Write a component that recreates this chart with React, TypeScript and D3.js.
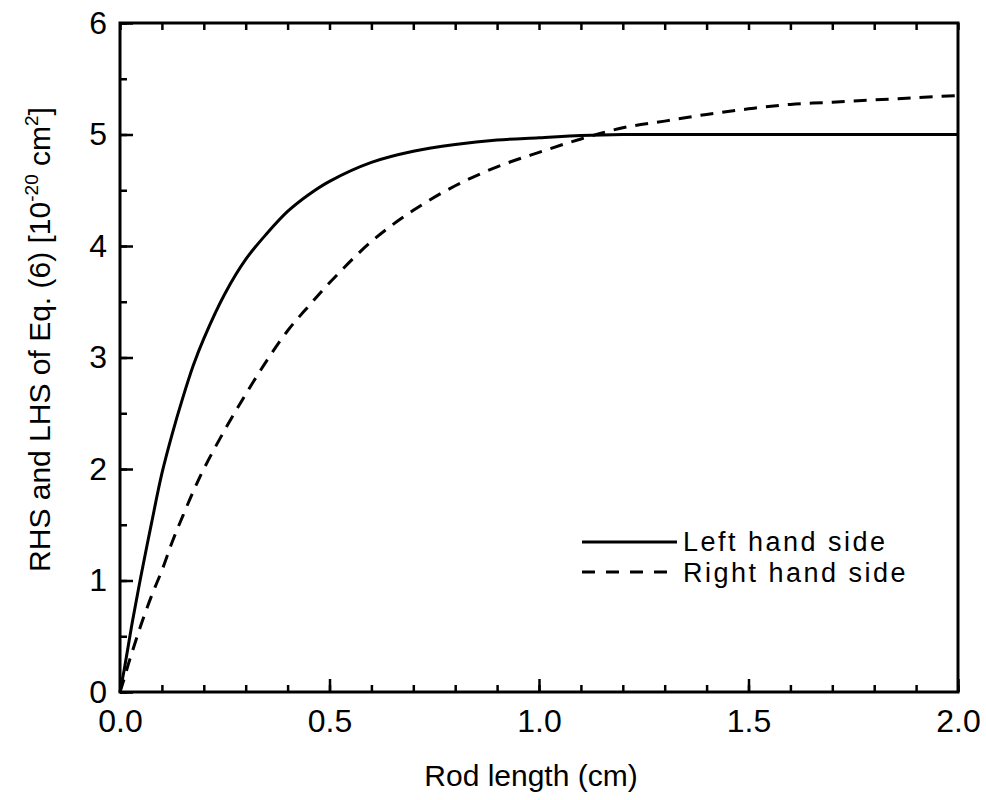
import * as d3 from "d3";
import { useEffect, useRef } from "react";

// rod length (cm), shared by both curves
const rodLength = [
  0, 0.01, 0.02, 0.03, 0.05, 0.075, 0.1, 0.125, 0.15, 0.175, 0.2, 0.25, 0.3,
  0.35, 0.4, 0.45, 0.5, 0.6, 0.7, 0.8, 0.9, 1.0, 1.1, 1.2, 1.3, 1.4, 1.5, 1.6,
  1.7, 1.8, 1.9, 2.0,
];
const leftHandSide = [
  0, 0.2, 0.42, 0.64, 1.04, 1.51, 1.96, 2.32, 2.64, 2.93, 3.17, 3.57, 3.88,
  4.11, 4.31, 4.46, 4.58, 4.75, 4.85, 4.91, 4.95, 4.97, 4.99, 5.0, 5.0, 5.0,
  5.0, 5.0, 5.0, 5.0, 5.0, 5.0,
];
const rightHandSide = [
  0, 0.12, 0.25, 0.37, 0.6, 0.86, 1.09, 1.35, 1.58, 1.8, 2.0, 2.35, 2.67, 2.97,
  3.24, 3.46, 3.67, 4.04, 4.32, 4.54, 4.71, 4.84, 4.96, 5.06, 5.12, 5.18, 5.23,
  5.27, 5.29, 5.31, 5.33, 5.35,
];

const xMajor = [0, 0.5, 1.0, 1.5, 2.0];
const xMinor = d3.range(0, 21).map((i) => i / 10);
const yMajor = [0, 1, 2, 3, 4, 5, 6];
const yMinor = d3.range(0, 13).map((i) => i / 2);
const legendLabels = ["Left hand side", "Right hand side"];

const width = 986;
const height = 800;
const marginTop = 23;
const marginRight = 28;
const marginBottom = 108;
const marginLeft = 120;

const font = "'Liberation Sans', Arial, Helvetica, sans-serif";

export default function App() {
  const gx = useRef<SVGGElement>(null);
  const gxMinor = useRef<SVGGElement>(null);
  const gxTop = useRef<SVGGElement>(null);
  const gy = useRef<SVGGElement>(null);
  const gyMinor = useRef<SVGGElement>(null);

  const x = d3
    .scaleLinear()
    .domain([0, 2])
    .range([marginLeft, width - marginRight]);
  const y = d3
    .scaleLinear()
    .domain([0, 6])
    .range([height - marginBottom, marginTop]);

  const line = d3
    .line<number>()
    .x((_, i) => x(rodLength[i]))
    .y((d) => y(d))
    .curve(d3.curveCatmullRom.alpha(0.5));

  useEffect(() => {
    const style = (g: any) => {
      g.select(".domain").remove();
      g.selectAll(".tick line").attr("stroke-width", 2.5);
      g.selectAll(".tick text")
        .attr("font-family", font)
        .attr("font-size", 32)
        .attr("fill", "#000");
    };
    d3.select(gx.current!)
      .call(
        d3
          .axisBottom(x)
          .tickValues(xMajor)
          .tickSize(-13)
          .tickPadding(17)
          .tickFormat(d3.format(".1f"))
      )
      .call(style);
    d3.select(gxMinor.current!)
      .call(d3.axisBottom(x).tickValues(xMinor).tickSize(-7).tickFormat(() => ""))
      .call(style);
    d3.select(gxTop.current!)
      .call(d3.axisTop(x).tickValues(xMinor).tickSize(-7).tickFormat(() => ""))
      .call(style);
    d3.select(gy.current!)
      .call(d3.axisLeft(y).tickValues(yMajor).tickSize(-13).tickPadding(13).tickFormat(d3.format("d")))
      .call(style);
    d3.select(gyMinor.current!)
      .call(d3.axisLeft(y).tickValues(yMinor).tickSize(-7).tickFormat(() => ""))
      .call(style);
  }, []);

  const plotBottom = height - marginBottom;
  const midY = (marginTop + plotBottom) / 2;

  return (
    <svg
      width={width}
      height={height}
      viewBox={`0 0 ${width} ${height}`}
      style={{ position: "absolute", left: 0, top: 0, background: "#fff" }}
    >
      <rect width={width} height={height} fill="#fff" />
      <g fill="none" stroke="#000" strokeWidth={3}>
        <path d={line(leftHandSide) ?? ""} />
        <path d={line(rightHandSide) ?? ""} strokeDasharray="13 9" />
      </g>

      <g ref={gxMinor} transform={`translate(0,${plotBottom})`} />
      <g ref={gx} transform={`translate(0,${plotBottom})`} />
      <g ref={gxTop} transform={`translate(0,${marginTop})`} />
      <g ref={gyMinor} transform={`translate(${marginLeft},0)`} />
      <g ref={gy} transform={`translate(${marginLeft},0)`} />

      <rect
        x={marginLeft}
        y={marginTop}
        width={width - marginRight - marginLeft}
        height={plotBottom - marginTop}
        fill="none"
        stroke="#000"
        strokeWidth={3}
      />

      {/* legend */}
      <g fontFamily={font} fontSize={27} letterSpacing={2.5} fill="#000">
        <line x1={582} x2={677} y1={542} y2={542} stroke="#000" strokeWidth={3} />
        <text x={683} y={551}>{legendLabels[0]}</text>
        <line
          x1={582}
          x2={670}
          y1={572}
          y2={572}
          stroke="#000"
          strokeWidth={3}
          strokeDasharray="13 11"
        />
        <text x={683} y={582}>{legendLabels[1]}</text>
      </g>

      <text
        x={(marginLeft + width - marginRight) / 2 - 8}
        y={786}
        textAnchor="middle"
        fontFamily={font}
        fontSize={30}
        fill="#000"
      >
        Rod length (cm)
      </text>

      <text
        transform={`translate(50,${midY - 18}) rotate(-90)`}
        textAnchor="middle"
        fontFamily={font}
        fontSize={30}
        fill="#000"
      >
        RHS and LHS of Eq. (6) [10
        <tspan fontSize={19} dy={-12}>-20</tspan>
        <tspan dy={12}> cm</tspan>
        <tspan fontSize={19} dy={-12}>2</tspan>
        <tspan dy={12}>]</tspan>
      </text>
    </svg>
  );
}
